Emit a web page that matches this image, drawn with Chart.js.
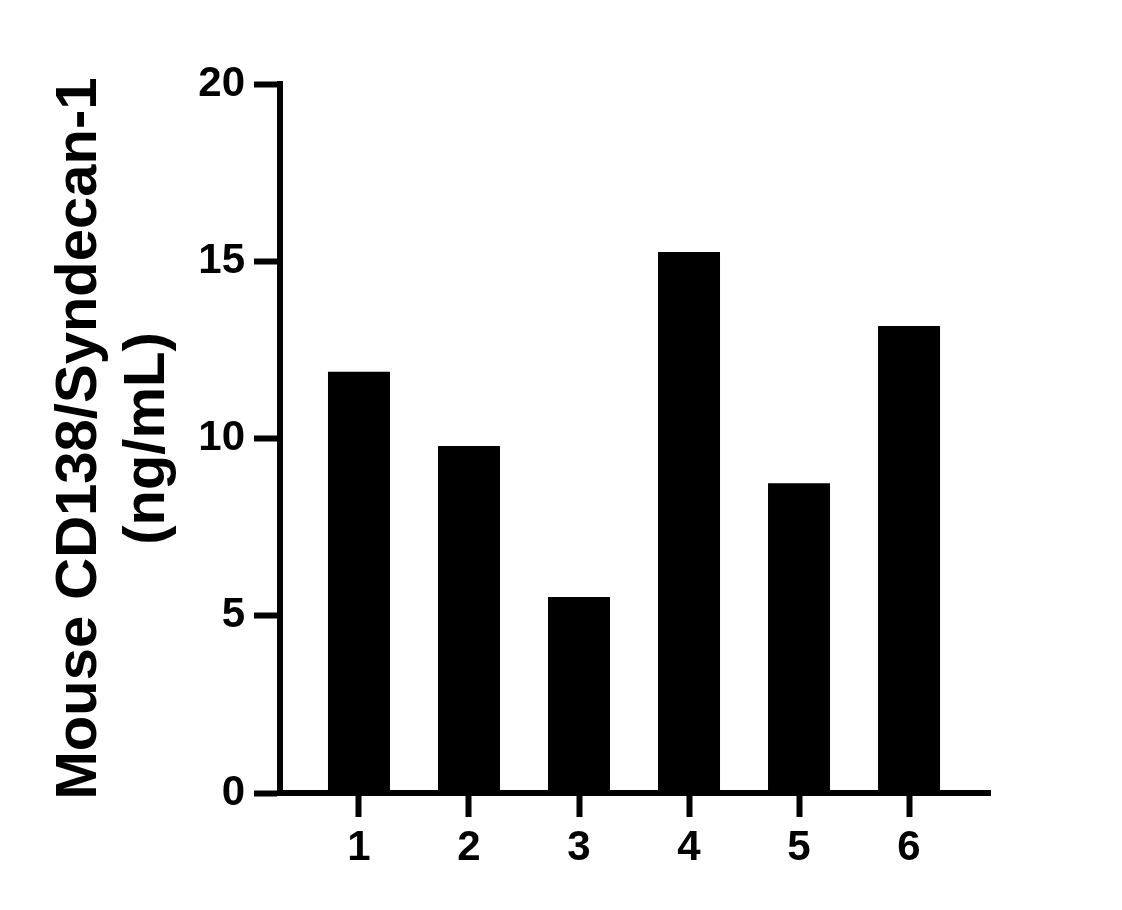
<!DOCTYPE html>
<html>
<head>
<meta charset="utf-8">
<script src="https://cdn.jsdelivr.net/npm/chart.js@4"></script>
<style>
  html, body { margin: 0; padding: 0; background: #fff; }
  #wrap { width: 1122px; height: 910px; }
</style>
</head>
<body>
<div id="wrap"><canvas id="chart"></canvas></div>
<script>
// data
const categories = [1, 2, 3, 4, 5, 6];
const values = [11.88, 9.79, 5.53, 15.26, 8.74, 13.17];
const yTicks = [0, 5, 10, 15, 20];
const yTitle = ['Mouse CD138/Syndecan-1', '(ng/mL)'];

const fontFamily = '"Liberation Sans", Arial, sans-serif';

document.addEventListener('DOMContentLoaded', () => {
  const ctx = document.getElementById('chart').getContext('2d');

  new Chart(ctx, {
    type: 'bar',
    data: {
      datasets: [{
        data: categories.map((c, i) => ({ x: c, y: values[i] })),
        backgroundColor: '#000',
        borderWidth: 0,
        categoryPercentage: 1,
        barPercentage: 0.5636,
      }],
    },
    options: {
      responsive: true,
      maintainAspectRatio: false,
      animation: false,
      layout: { padding: { top: 84, right: 132, left: 0, bottom: 0 } },
      plugins: { legend: { display: false }, tooltip: { enabled: false } },
      scales: {
        x: {
          type: 'linear',
          offset: false,
          min: 0.282,
          max: 6.736,
          afterBuildTicks: (scale) => { scale.ticks = categories.map(v => ({ value: v })); },
          afterFit: (scale) => { scale.height = 117; },
          border: { color: '#000', width: 6 },
          grid: { offset: false, drawOnChartArea: false, drawTicks: true, tickLength: 24, tickWidth: 6, tickColor: '#000' },
          ticks: {
            color: '#000',
            padding: 6,
            maxRotation: 0,
            font: { family: fontFamily, size: 42, weight: 'bold' },
          },
        },
        y: {
          min: 0,
          max: 20,
          afterBuildTicks: (scale) => { scale.ticks = yTicks.map(v => ({ value: v })); },
          afterFit: (scale) => { scale.width = 280; },
          border: { color: '#000', width: 6 },
          grid: { drawOnChartArea: false, drawTicks: true, tickLength: 26, tickWidth: 6, tickColor: '#000' },
          ticks: {
            color: '#000',
            padding: 9,
            font: { family: fontFamily, size: 42, weight: 'bold' },
          },
          title: {
            display: true,
            text: yTitle,
            color: '#000',
            padding: { top: 46, bottom: 0 },
            font: { family: fontFamily, size: 58, weight: 'bold', lineHeight: 1.17 },
          },
        },
      },
    },
  });
});
</script>
</body>
</html>
